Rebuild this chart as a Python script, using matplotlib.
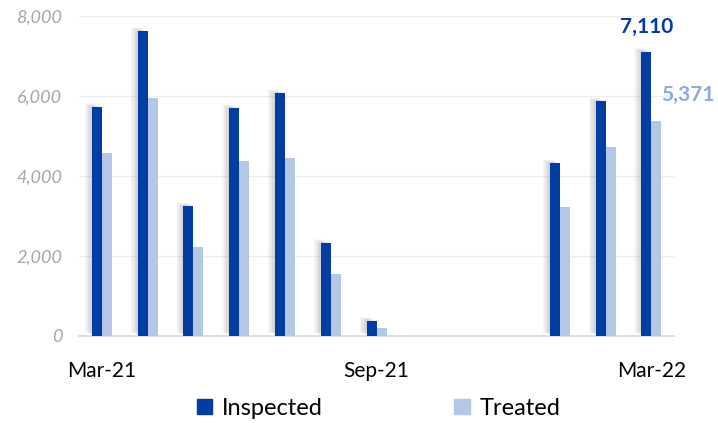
import numpy as np
import matplotlib
matplotlib.use("Agg")
import matplotlib.pyplot as plt
from matplotlib import patheffects as pe
from matplotlib.patches import Patch

plt.rcParams['font.family'] = ['Lato', 'DejaVu Sans']

# data (Mar-21 .. Mar-22)
months = ["Mar-21", "Apr-21", "May-21", "Jun-21", "Jul-21", "Aug-21", "Sep-21",
          "Oct-21", "Nov-21", "Dec-21", "Jan-22", "Feb-22", "Mar-22"]
inspected = [5720, 7625, 3245, 5700, 6075, 2325, 375, 0, 0, 0, 4325, 5875, 7110]
treated = [4575, 5960, 2225, 4375, 4450, 1560, 205, 0, 0, 0, 3225, 4735, 5371]
shown_ticks = ["Mar-21", "Sep-21", "Mar-22"]

dark = "#003DA5"
light = "#B4C7E7"

fig = plt.figure(figsize=(7.18, 4.23), dpi=100)
ax = fig.add_axes([0.110, 0.206, 0.829, 0.756])

x = np.arange(len(months))
w = 0.218
# soft shadow: a few faint offset copies
shadow = [pe.SimplePatchShadow(offset=(-d, d * 0.5), shadow_rgbFace="#000000", alpha=0.035)
          for d in (1, 2, 3, 4, 5)] + [pe.Normal()]
b1 = ax.bar(x - w / 2, inspected, w, color=dark, zorder=3)
b2 = ax.bar(x + w / 2, treated, w, color=light, zorder=3)
for b in b1:
    b.set_path_effects(shadow)

ax.set_xlim(-0.5, len(months) - 0.5)
ax.set_ylim(0, 8000)
ax.set_yticks(range(0, 8001, 2000))
ax.yaxis.set_major_formatter(matplotlib.ticker.FuncFormatter(lambda v, p: f"{int(v):,}"))
for lab in ax.get_yticklabels():
    lab.set_fontstyle("italic")
ax.tick_params(axis="y", length=0, pad=12, labelsize=13, labelcolor="#A6A6A6")

ax.set_xticks([months.index(m) for m in shown_ticks])
ax.set_xticklabels(shown_ticks)
ax.tick_params(axis="x", length=0, pad=18, labelsize=15, labelcolor="#000000")

ax.grid(axis="y", color="#EEEEEE", linewidth=1, zorder=0)
for s in ["top", "right", "left"]:
    ax.spines[s].set_visible(False)
ax.spines["bottom"].set_color("#D9D9D9")
ax.spines["bottom"].set_linewidth(1.2)

# last values
last = len(months) - 1
ax.annotate(f"{inspected[-1]:,}", (x[last] - w / 2, inspected[-1]), xytext=(0, 18),
            textcoords="offset points", ha="center", va="center",
            fontsize=15, fontweight="bold", color=dark, annotation_clip=False)
ax.annotate(f"{treated[-1]:,}", (x[last] + w, treated[-1]), xytext=(0, 19),
            textcoords="offset points", ha="left", va="center",
            fontsize=15, fontweight="bold", color="#8EA9DB", annotation_clip=False)

handles = [Patch(color=dark, label="Inspected"), Patch(color=light, label="Treated")]
fig.legend(handles=handles, loc="center", bbox_to_anchor=(0.527, 0.035), ncol=2,
           frameon=False, fontsize=17, handlelength=0.65, handleheight=0.65,
           handletextpad=0.4, columnspacing=5.6)

fig.savefig("out.png", dpi=100)
